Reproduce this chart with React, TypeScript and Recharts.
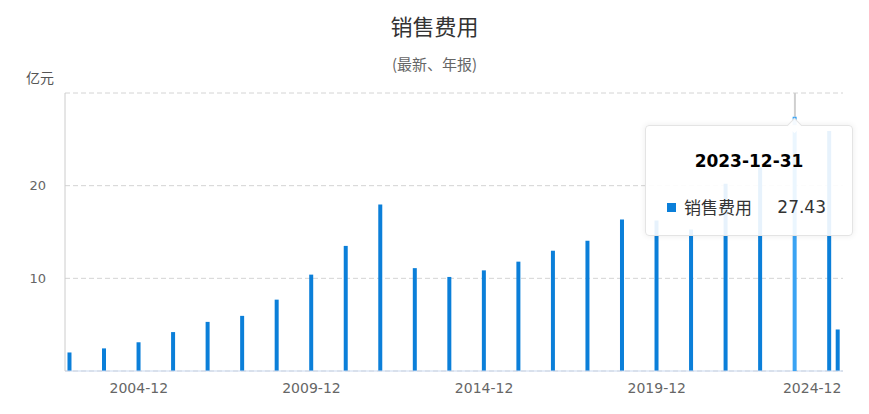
import React from 'react';
import { BarChart, Bar, XAxis, YAxis, CartesianGrid, Tooltip, ReferenceLine } from 'recharts';

// 报告期（年报 + 最新一期）
const reportDates = [
  '2002-12-31', '2003-12-31', '2004-12-31', '2005-12-31', '2006-12-31', '2007-12-31',
  '2008-12-31', '2009-12-31', '2010-12-31', '2011-12-31', '2012-12-31', '2013-12-31',
  '2014-12-31', '2015-12-31', '2016-12-31', '2017-12-31', '2018-12-31', '2019-12-31',
  '2020-12-31', '2021-12-31', '2022-12-31', '2023-12-31', '2024-12-31', '2025-03-31',
];

// 销售费用（亿元）
const salesExpense = [
  2.0, 2.44, 3.1, 4.2, 5.3, 5.95,
  7.7, 10.4, 13.5, 17.96, 11.1, 10.15,
  10.86, 11.8, 12.98, 14.05, 16.34, 16.24,
  15.27, 20.2, 21.97, 27.43, 25.9, 4.48,
];

const xTickDates = ['2004-12-31', '2009-12-31', '2014-12-31', '2019-12-31', '2024-12-31'];
const xTickLabels = ['2004-12', '2009-12', '2014-12', '2019-12', '2024-12'];

const yTicks = [0, 10, 20, 30];
const yTickLabels = ['', '10', '20', ''];

const seriesName = '销售费用';
const hoveredIndex = 21;

const BAR = '#0b7fd9';
const BAR_ACTIVE = '#3aa3f3';
const CJK = '"Noto Sans CJK SC", sans-serif';
const NUM = '"DejaVu Sans", "Noto Sans CJK SC", sans-serif';

// date string -> fractional year, so the time axis is linear
function toYear(s: string) {
  const [y, m, d] = s.split('-').map(Number);
  const start = Date.UTC(y, 0, 1);
  const end = Date.UTC(y + 1, 0, 1);
  return y + (Date.UTC(y, m - 1, d) - start) / (end - start);
}

const chartData = reportDates.map((date, i) => ({
  date,
  t: toYear(date),
  v: salesExpense[i],
}));

const xTicks = xTickDates.map(toYear);

function XTick(props: any) {
  const { x, y, index } = props;
  const last = index === xTickLabels.length - 1;
  return (
    <text
      x={last ? x + 12 : x}
      y={y}
      dy="0.71em"
      textAnchor={last ? 'end' : 'middle'}
      fill="#666"
      fontSize={14}
      fontFamily={NUM}
    >
      {xTickLabels[index]}
    </text>
  );
}

function TipBox(props: any) {
  const { payload } = props;
  const item = payload && payload.length ? payload[0] : null;
  const row = item ? item.payload : chartData[hoveredIndex];
  return (
    <div
      style={{
        position: 'relative',
        width: 206,
        height: 109,
        background: 'rgba(255,255,255,0.9)',
        border: '1px solid #e4e4e4',
        borderRadius: 4,
        boxShadow: '0 0 6px rgba(0,0,0,0.08)',
        fontFamily: NUM,
        boxSizing: 'content-box',
      }}
    >
      <div
        style={{
          position: 'absolute',
          left: 143,
          top: -6,
          width: 10,
          height: 10,
          background: 'rgba(255,255,255,0.95)',
          borderLeft: '1px solid #e4e4e4',
          borderTop: '1px solid #e4e4e4',
          transform: 'rotate(45deg)',
        }}
      />
      <div
        style={{
          position: 'absolute',
          left: 0,
          right: 0,
          top: 23,
          lineHeight: '24px',
          textAlign: 'center',
          fontSize: 17,
          fontWeight: 'bold',
          color: '#000',
        }}
      >
        {row.date}
      </div>
      <div
        style={{
          position: 'absolute',
          left: 21,
          right: 26,
          top: 69,
          lineHeight: '24px',
          display: 'flex',
          alignItems: 'center',
          fontSize: 17,
          color: '#333',
        }}
      >
        <span style={{ display: 'inline-block', width: 9, height: 9, background: BAR, marginRight: 8 }} />
        <span style={{ fontFamily: CJK }}>{seriesName}</span>
        <span style={{ marginLeft: 'auto' }}>{row.v}</span>
      </div>
    </div>
  );
}

export default function App() {
  const hovered = chartData[hoveredIndex];
  return (
    <div style={{ position: 'absolute', left: 0, top: 0, width: 869, height: 414, background: '#fff' }}>
      <div
        style={{
          position: 'absolute', left: 0, width: 869, top: 10, lineHeight: '30px',
          textAlign: 'center', fontSize: 22, color: '#333', fontFamily: CJK,
        }}
      >
        销售费用
      </div>
      <div
        style={{
          position: 'absolute', left: 0, width: 869, top: 52, lineHeight: '24px',
          textAlign: 'center', fontSize: 15, color: '#666', fontFamily: CJK,
        }}
      >
        (最新、年报)
      </div>
      <div
        style={{
          position: 'absolute', left: 26, top: 66, lineHeight: '22px',
          fontSize: 14, color: '#555', fontFamily: CJK,
        }}
      >
        亿元
      </div>
      <BarChart
        width={869}
        height={414}
        data={chartData}
        margin={{ top: 93, right: 26, bottom: 13, left: 20 }}
      >
        <CartesianGrid vertical={false} stroke="#d4d4d4" strokeDasharray="5 3" />
        <XAxis
          dataKey="t"
          type="number"
          domain={[2002.86, 2025.39]}
          allowDataOverflow
          ticks={xTicks}
          interval={0}
          tick={<XTick />}
          tickLine={false}
          tickSize={0}
          tickMargin={12}
          axisLine={{ stroke: '#c9d8ef' }}
          height={30}
        />
        <YAxis
          domain={[0, 30]}
          ticks={yTicks}
          interval={0}
          tickFormatter={(v: number) => yTickLabels[yTicks.indexOf(v)]}
          width={45}
          tickLine={false}
          tickSize={0}
          tickMargin={19}
          axisLine={{ stroke: '#cccccc' }}
          tick={{ fill: '#666', fontSize: 13, fontFamily: NUM }}
        />
        <ReferenceLine
          segment={[{ x: hovered.t, y: 30 }, { x: hovered.t, y: hovered.v }]}
          stroke="#cfcfcf"
          strokeWidth={2}
        />
        <Bar
          dataKey="v"
          name={seriesName}
          fill={BAR}
          barSize={4}
          activeBar={{ fill: BAR_ACTIVE }}
          isAnimationActive={false}
        />
        <Tooltip
          active
          defaultIndex={hoveredIndex}
          cursor={false}
          position={{ x: 645, y: 125 }}
          offset={0}
          allowEscapeViewBox={{ x: true, y: true }}
          isAnimationActive={false}
          wrapperStyle={{ outline: 'none' }}
          content={<TipBox />}
        />
      </BarChart>
    </div>
  );
}
